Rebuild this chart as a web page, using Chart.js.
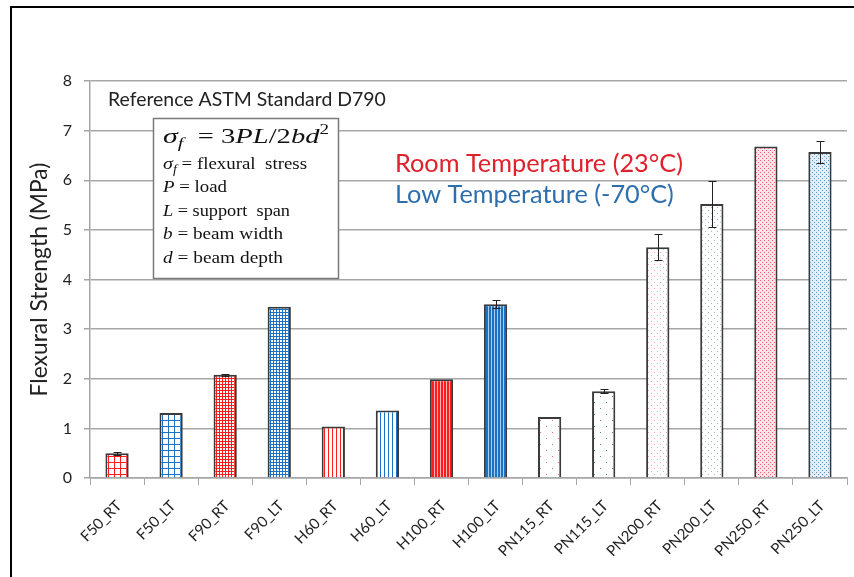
<!DOCTYPE html>
<html>
<head>
<meta charset="utf-8">
<script src="https://cdn.jsdelivr.net/npm/chart.js@4.4.1/dist/chart.umd.min.js"></script>
<style>
  html, body { margin: 0; padding: 0; background: #fff; }
  #wrap { position: relative; width: 854px; height: 577px; }
</style>
</head>
<body>
<div id="wrap"><canvas id="flexChart" width="854" height="577"></canvas></div>
<script>
const samples = ['F50_RT', 'F50_LT', 'F90_RT', 'F90_LT', 'H60_RT', 'H60_LT', 'H100_RT', 'H100_LT',
    'PN115_RT', 'PN115_LT', 'PN200_RT', 'PN200_LT', 'PN250_RT', 'PN250_LT'];
const strength = [0.5, 1.31, 2.08, 3.45, 1.04, 1.36, 1.99, 3.5, 1.23, 1.75, 4.65, 5.52, 6.68, 6.57];
const strengthErr = [0.03, 0, 0.02, 0, 0, 0, 0, 0.08, 0, 0.04, 0.26, 0.47, 0, 0.22];
const yMin = 0;
const yMax = 8;
const yStep = 1;

// fill style for each bar: pattern kind + temperature colour
const fillKind = ['gridWide', 'gridWide', 'gridFine', 'gridFine', 'stripesWide', 'stripesWide', 'stripesFine', 'stripesFine',
    'dotsSparse', 'dotsSparse', 'dotsMid', 'dotsMid', 'dotsDense', 'dotsDense'];

const RED = '#ff1c1c';
const BLUE = '#1b72c2';
const SANS = 'Lato, "Open Sans", sans-serif';
const SERIF = '"Liberation Serif", "DejaVu Serif", serif';

const measureCtx = document.createElement('canvas').getContext('2d');
function fitSize(text, family, width, style) {
    measureCtx.font = (style || '') + ' 100px ' + family;
    return 100 * width / measureCtx.measureText(text).width;
}

function makePattern(kind, isRT) {
    const col = isRT ? RED : BLUE;
    const cv = document.createElement('canvas');
    const c = cv.getContext('2d');
    let s;
    if (kind === 'gridWide' || kind === 'gridFine') {
        s = kind === 'gridWide' ? 6 : 3;
        cv.width = s; cv.height = s;
        c.fillStyle = '#fff'; c.fillRect(0, 0, s, s);
        c.fillStyle = col;
        c.fillRect(0, 0, 1, s);
        c.fillRect(0, 0, s, 1);
    } else if (kind === 'stripesWide' || kind === 'stripesFine') {
        s = kind === 'stripesWide' ? 4 : 3;
        cv.width = s; cv.height = 4;
        c.fillStyle = kind === 'stripesFine' ? (isRT ? '#ffb0b0' : '#a9cdee') : '#fff';
        c.fillRect(0, 0, s, 4);
        c.fillStyle = col;
        c.fillRect(0, 0, kind === 'stripesFine' ? 2 : 1, 4);
    } else {
        s = kind === 'dotsSparse' ? 6 : (kind === 'dotsMid' ? 3 : 2);
        cv.width = s * 2; cv.height = s * 2;
        c.fillStyle = '#fff';
        if (kind === 'dotsDense') c.fillStyle = isRT ? '#fbe3e6' : '#e3eef8';
        c.fillRect(0, 0, s * 2, s * 2);
        const dot = kind === 'dotsSparse' ? (isRT ? '#f0707e' : '#4f8f9a')
            : kind === 'dotsMid' ? (isRT ? '#f5a3ad' : '#9fb9c8')
            : (isRT ? '#ec5f72' : '#5b95c4');
        c.fillStyle = dot;
        c.fillRect(0, 0, 1, 1);
        c.fillRect(s, s, 1, 1);
    }
    return c.createPattern(cv, 'repeat');
}

const barFills = samples.map((name, i) => makePattern(fillKind[i], name.endsWith('_RT')));

const sizeRef = fitSize('Reference ASTM Standard D790', SANS, 278);
const sizeLegend = fitSize('Room Temperature (23°C)', SANS, 288);
const sizeTitle = fitSize('Flexural Strength (MPa)', SANS, 234);

// draws mixed italic/upright runs, stretched horizontally to span the given width
function drawRuns(c, runs, x, y, width) {
    let total = 0;
    runs.forEach(r => {
        c.font = (r.italic ? 'italic ' : '') + r.size + 'px ' + SERIF;
        total += c.measureText(r.t).width;
    });
    c.save();
    c.translate(x, y);
    c.scale(width / total, 1);
    let cx = 0;
    runs.forEach(r => {
        c.font = (r.italic ? 'italic ' : '') + r.size + 'px ' + SERIF;
        c.fillText(r.t, cx, r.dy || 0);
        cx += c.measureText(r.t).width;
    });
    c.restore();
}

const framePlugin = {
    id: 'frame',
    beforeDraw(chart) {
        const c = chart.ctx;
        c.save();
        c.fillStyle = '#fff';
        c.fillRect(0, 0, chart.width, chart.height);
        c.strokeStyle = '#000';
        c.lineWidth = 2;
        c.beginPath();
        c.moveTo(11, 577);
        c.lineTo(11, 7);
        c.lineTo(854, 7);
        c.stroke();
        c.restore();
    }
};

const errorBarPlugin = {
    id: 'errorBars',
    afterDatasetsDraw(chart) {
        const c = chart.ctx;
        const yScale = chart.scales.y;
        const meta = chart.getDatasetMeta(0);
        c.save();
        c.strokeStyle = '#222';
        c.lineWidth = 1;
        meta.data.forEach((bar, i) => {
            const e = strengthErr[i];
            if (!e) return;
            const top = Math.round(yScale.getPixelForValue(strength[i] + e)) + 0.5;
            const bot = Math.round(yScale.getPixelForValue(strength[i] - e)) + 0.5;
            const x = Math.round(bar.x) + 0.5;
            c.beginPath();
            c.moveTo(x, top); c.lineTo(x, bot);
            c.moveTo(x - 4, top); c.lineTo(x + 4, top);
            c.moveTo(x - 4, bot); c.lineTo(x + 4, bot);
            c.stroke();
        });
        c.restore();
    }
};

const notesPlugin = {
    id: 'notes',
    afterDraw(chart) {
        const c = chart.ctx;
        c.save();
        c.textBaseline = 'alphabetic';
        c.textAlign = 'left';

        c.fillStyle = '#222';
        c.font = sizeRef + 'px ' + SANS;
        c.fillText('Reference ASTM Standard D790', 108, 106);

        // formula box
        c.fillStyle = '#fff';
        c.fillRect(153, 118, 185, 160);
        c.strokeStyle = '#7a7a7a';
        c.lineWidth = 1.5;
        c.strokeRect(153.5, 118.5, 185, 160);

        c.fillStyle = '#111';
        drawRuns(c, [
            { t: 'σ', italic: true, size: 22 },
            { t: 'f', italic: true, size: 15, dy: 5 },
            { t: '  = ', italic: false, size: 21 },
            { t: '3', italic: false, size: 21 },
            { t: 'PL', italic: true, size: 21 },
            { t: '/2', italic: false, size: 21 },
            { t: 'bd', italic: true, size: 21 },
            { t: '2', italic: false, size: 14, dy: -9 }
        ], 163, 143, 166);
        drawRuns(c, [
            { t: 'σ', italic: true, size: 17 },
            { t: 'f', italic: true, size: 12, dy: 4 },
            { t: ' = flexural  stress', italic: false, size: 16 }
        ], 163, 169, 144);
        drawRuns(c, [{ t: 'P', italic: true, size: 16 }, { t: ' = load', size: 16 }], 163, 192, 64);
        drawRuns(c, [{ t: 'L', italic: true, size: 16 }, { t: ' = support  span', size: 16 }], 163, 216, 127);
        drawRuns(c, [{ t: 'b', italic: true, size: 16 }, { t: ' = beam width', size: 16 }], 163, 239, 120);
        drawRuns(c, [{ t: 'd', italic: true, size: 16 }, { t: ' = beam depth', size: 16 }], 163, 263, 120);

        c.font = sizeLegend + 'px ' + SANS;
        c.fillStyle = '#e0202a';
        c.fillText('Room Temperature (23°C)', 395, 172);
        c.fillStyle = '#2d6fae';
        c.fillText('Low Temperature (-70°C)', 395, 203);
        c.restore();
    }
};

const ctx = document.getElementById('flexChart').getContext('2d');
const flexChart = new Chart(ctx, {
    type: 'bar',
    data: {
        labels: samples,
        datasets: [{
            data: strength,
            backgroundColor: barFills,
            borderColor: '#3a3a3a',
            borderWidth: 2,
            categoryPercentage: 1,
            barPercentage: 0.43
        }]
    },
    options: {
        responsive: false,
        animation: false,
        layout: { padding: { top: 81, right: 7, left: 0, bottom: 0 } },
        plugins: {
            legend: { display: false },
            tooltip: { enabled: false }
        },
        scales: {
            x: {
                grid: { offset: true, drawOnChartArea: false, color: '#a6a6a6', tickLength: 7, lineWidth: 1 },
                border: { color: '#a6a6a6', width: 1.5 },
                ticks: { minRotation: 45, maxRotation: 45, color: '#222', padding: 12, labelOffset: 2,
                    font: { family: SANS, size: 15 } },
                afterFit: (s) => { s.height = 99; }
            },
            y: {
                min: yMin,
                max: yMax,
                ticks: { stepSize: yStep, padding: 12, color: '#222', font: { family: SANS, size: 16 } },
                grid: { color: '#a6a6a6', lineWidth: 1.5, tickLength: 6 },
                border: { color: '#a6a6a6', width: 1.5 },
                title: { display: true, text: 'Flexural Strength (MPa)', color: '#222', padding: { top: 26, bottom: 0 },
                    font: { family: SANS, size: sizeTitle, weight: 'normal' } },
                afterFit: (s) => { s.width = 90; }
            }
        }
    },
    plugins: [framePlugin, errorBarPlugin, notesPlugin]
});
</script>
</body>
</html>
